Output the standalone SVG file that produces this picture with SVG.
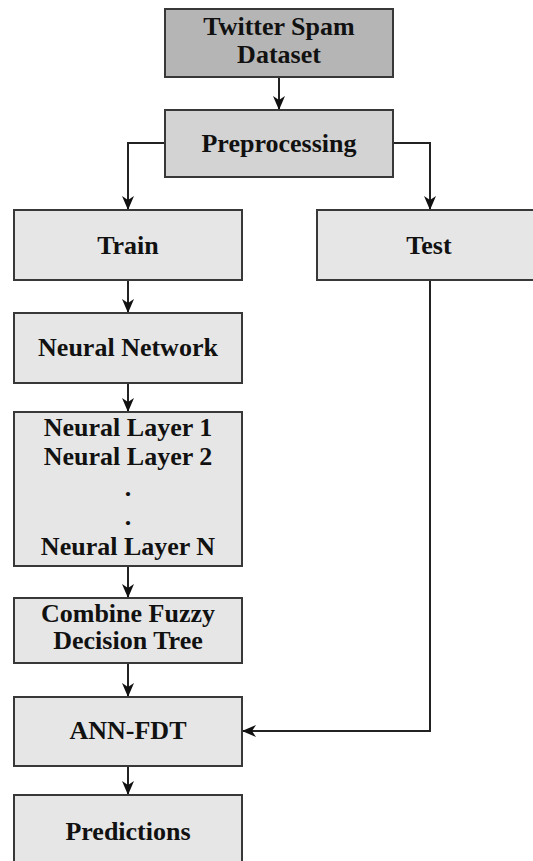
<svg xmlns="http://www.w3.org/2000/svg" width="533" height="861" viewBox="0 0 533 861">
<style>
.box{fill:#e6e6e6;stroke:#383838;stroke-width:2}
.dark{fill:#b5b5b5}
.mid{fill:#d3d3d3}
.t{font-family:"Liberation Serif","Times New Roman",serif;font-weight:bold;font-size:26px;fill:#111;text-anchor:middle}
.c{fill:none;stroke:#222;stroke-width:2}
</style>
<defs>
<marker id="ah" viewBox="0 0 14 14" refX="13" refY="7" markerWidth="14" markerHeight="14" markerUnits="userSpaceOnUse" orient="auto">
<path d="M0,1 L14,7 L0,13 L4,7 z" fill="#111"/>
</marker>
</defs>
<rect width="533" height="861" fill="#fff"/>
<g id="connectors">
<path class="c" d="M279,77 V109" marker-end="url(#ah)"/>
<path class="c" d="M165,143 H128 V209" marker-end="url(#ah)"/>
<path class="c" d="M393,143 H430 V209" marker-end="url(#ah)"/>
<path class="c" d="M128,280 V312" marker-end="url(#ah)"/>
<path class="c" d="M128,383 V411" marker-end="url(#ah)"/>
<path class="c" d="M128,566 V597" marker-end="url(#ah)"/>
<path class="c" d="M128,663 V696" marker-end="url(#ah)"/>
<path class="c" d="M128,766 V794" marker-end="url(#ah)"/>
<path class="c" d="M430,280 V731 H243" marker-end="url(#ah)"/>
</g>
<g id="dataset"><rect class="box dark" x="165" y="9" width="228" height="68"/><text class="t" x="279" y="35">Twitter Spam</text><text class="t" x="279" y="63">Dataset</text></g>
<g id="preprocessing"><rect class="box mid" x="165" y="110" width="228" height="67"/><text class="t" x="279" y="152">Preprocessing</text></g>
<g id="train"><rect class="box" x="14" y="210" width="228" height="70"/><text class="t" x="128" y="254">Train</text></g>
<g id="test"><rect class="box" x="317" y="210" width="240" height="70"/><text class="t" x="429" y="254">Test</text></g>
<g id="nn"><rect class="box" x="14" y="313" width="228" height="70"/><text class="t" x="128" y="356">Neural Network</text></g>
<g id="layers"><rect class="box" x="14" y="412" width="228" height="154"/><text class="t" x="128" y="436">Neural Layer 1</text><text class="t" x="128" y="465">Neural Layer 2</text><text class="t" x="128" y="496">.</text><text class="t" x="128" y="525">.</text><text class="t" x="128" y="555">Neural Layer N</text></g>
<g id="fdt"><rect class="box" x="14" y="598" width="228" height="65"/><text class="t" x="128" y="622">Combine Fuzzy</text><text class="t" x="128" y="649">Decision Tree</text></g>
<g id="annfdt"><rect class="box" x="14" y="697" width="228" height="69"/><text class="t" x="128" y="739">ANN-FDT</text></g>
<g id="predictions"><rect class="box" x="14" y="795" width="228" height="80"/><text class="t" x="128" y="840">Predictions</text></g>
</svg>
